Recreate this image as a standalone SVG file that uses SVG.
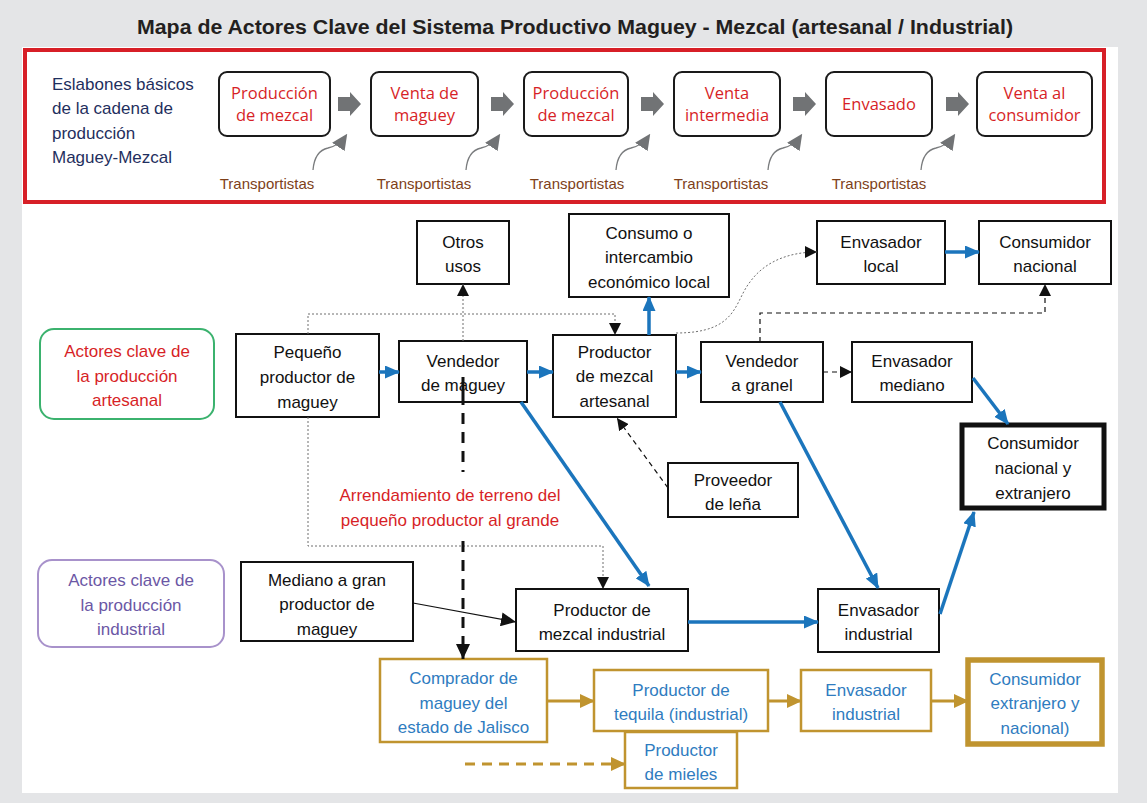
<svg xmlns="http://www.w3.org/2000/svg" width="1147" height="803" viewBox="0 0 1147 803">
<defs>
<style>
.bg{fill:#e4e5e7}
.panel{fill:#ffffff}
.title{font-family:"Liberation Sans",Arial,sans-serif;font-weight:bold;font-size:20px;fill:#231f20;text-anchor:middle}
.eslab{font-family:"Liberation Sans",Arial,sans-serif;font-size:17px;fill:#1f2f5e}
.step rect{fill:#fff;stroke:#1a1a1a;stroke-width:2}
.step text{font-family:"Open Sans","Liberation Sans",sans-serif;font-size:16.5px;fill:#d71f27;text-anchor:middle}
.trans{font-family:"Liberation Sans",Arial,sans-serif;font-size:15px;fill:#7e3f19;text-anchor:middle}
.garrow{fill:#717375}
.gcurve{fill:none;stroke:#7a7c7e;stroke-width:1.3}
.node rect{fill:#fff;stroke:#111;stroke-width:2}
.node .clear{fill:none}
.node text{font-family:"Liberation Sans",Arial,sans-serif;font-size:17px;fill:#111;text-anchor:middle}
.thick rect{stroke-width:5}
.gold rect{fill:#fff;stroke:#c0942f;stroke-width:2.5}
.gold text{font-family:"Liberation Sans",Arial,sans-serif;font-size:17px;fill:#2f7cc0;text-anchor:middle}
.goldthick rect{stroke-width:5.5}
.lbl text{font-family:"Liberation Sans",Arial,sans-serif;font-size:17px;text-anchor:middle}
.red{fill:#d71f27}
.blue{fill:none;stroke:#1b75bc;stroke-width:3.5}
.dot{fill:none;stroke:#6f6f6f;stroke-width:1;stroke-dasharray:2,2}
.dash{fill:none;stroke:#111;stroke-width:1.2;stroke-dasharray:5,4}
.bigdash{fill:none;stroke:#111;stroke-width:3;stroke-dasharray:11,8}
.thin{fill:none;stroke:#111;stroke-width:1.2}
.goldl{fill:none;stroke:#c0942f;stroke-width:3}
.golddash{fill:none;stroke:#c0942f;stroke-width:3;stroke-dasharray:10,7}
</style>
<marker id="mb" markerWidth="15" markerHeight="13" refX="14" refY="6.5" orient="auto" markerUnits="userSpaceOnUse"><path d="M0,0 L15,6.5 L0,13 z" fill="#1b75bc"/></marker>
<marker id="mk" markerWidth="12" markerHeight="12" refX="12" refY="6" orient="auto" markerUnits="userSpaceOnUse"><path d="M0,0 L12,6 L0,12 z" fill="#111"/></marker>
<marker id="mk2" markerWidth="15" markerHeight="14" refX="15" refY="7" orient="auto" markerUnits="userSpaceOnUse"><path d="M0,0 L15,7 L0,14 z" fill="#111"/></marker>
<marker id="mg" markerWidth="15" markerHeight="14" refX="14" refY="7" orient="auto" markerUnits="userSpaceOnUse"><path d="M0,0 L15,7 L0,14 z" fill="#c0942f"/></marker>
<marker id="mgr" markerWidth="16" markerHeight="15" refX="12" refY="7.5" orient="auto" markerUnits="userSpaceOnUse"><path d="M0,0 L16,7.5 L0,15 z" fill="#717375"/></marker>
</defs>

<rect class="bg" x="0" y="0" width="1147" height="803"/>
<rect class="panel" x="22" y="47" width="1096" height="746"/>
<text class="title" x="575" y="34" textLength="876" lengthAdjust="spacingAndGlyphs">Mapa de Actores Clave del Sistema Productivo Maguey - Mezcal (artesanal / Industrial)</text>

<g id="eslabones">
<rect x="25" y="50" width="1079" height="152" fill="none" stroke="#d71f27" stroke-width="4"/>
<text class="eslab" x="52" y="90">Eslabones básicos</text>
<text class="eslab" x="52" y="114">de la cadena de</text>
<text class="eslab" x="52" y="139">producción</text>
<text class="eslab" x="52" y="163">Maguey-Mezcal</text>
</g>

<g id="step1" class="step"><rect x="219" y="72" width="111" height="64" rx="8"/><text x="274.5" y="99">Producción</text><text x="274.5" y="121">de mezcal</text></g>
<g id="step2" class="step"><rect x="371" y="72" width="107" height="64" rx="8"/><text x="424.5" y="99">Venta de</text><text x="424.5" y="121">maguey</text></g>
<g id="step3" class="step"><rect x="524" y="72" width="104" height="64" rx="8"/><text x="576" y="99">Producción</text><text x="576" y="121">de mezcal</text></g>
<g id="step4" class="step"><rect x="674" y="72" width="106" height="64" rx="8"/><text x="727" y="99">Venta</text><text x="727" y="121">intermedia</text></g>
<g id="step5" class="step"><rect x="826" y="72" width="106" height="64" rx="8"/><text x="879" y="110">Envasado</text></g>
<g id="step6" class="step"><rect x="977" y="72" width="115" height="64" rx="8"/><text x="1034.5" y="99">Venta al</text><text x="1034.5" y="121">consumidor</text></g>

<g id="top-connectors">
<polygon class="garrow" points="338,97 350,97 350,92 361,104 350,116 350,111 338,111"/>
<polygon class="garrow" points="491,97 503,97 503,92 514,104 503,116 503,111 491,111"/>
<polygon class="garrow" points="641,97 653,97 653,92 664,104 653,116 653,111 641,111"/>
<polygon class="garrow" points="793,97 805,97 805,92 816,104 805,116 805,111 793,111"/>
<polygon class="garrow" points="946,97 958,97 958,92 969,104 958,116 958,111 946,111"/>
<path class="gcurve" marker-end="url(#mgr)" d="M313,170 C314,158 319,150 328,148 C336,146 341,143 345,137"/>
<path class="gcurve" marker-end="url(#mgr)" d="M466,170 C467,158 472,150 481,148 C489,146 494,143 498,137"/>
<path class="gcurve" marker-end="url(#mgr)" d="M616,170 C617,158 622,150 631,148 C639,146 644,143 648,137"/>
<path class="gcurve" marker-end="url(#mgr)" d="M768,170 C769,158 774,150 783,148 C791,146 796,143 800,137"/>
<path class="gcurve" marker-end="url(#mgr)" d="M921,170 C922,158 927,150 936,148 C944,146 949,143 953,137"/>
</g>
<text class="trans" x="267" y="189">Transportistas</text>
<text class="trans" x="424" y="189">Transportistas</text>
<text class="trans" x="577" y="189">Transportistas</text>
<text class="trans" x="721" y="189">Transportistas</text>
<text class="trans" x="879" y="189">Transportistas</text>

<g id="lbl-artesanal" class="lbl"><rect x="40" y="329" width="174" height="90" rx="14" fill="#fff" stroke="#3bb26e" stroke-width="2"/><text x="127" y="357" fill="#d71f27">Actores clave de</text><text x="127" y="382" fill="#d71f27">la producción</text><text x="127" y="406" fill="#d71f27">artesanal</text></g>
<g id="lbl-industrial" class="lbl"><rect x="38" y="560" width="186" height="87" rx="14" fill="#fff" stroke="#a892cb" stroke-width="2"/><text x="131" y="586" fill="#6b57a5">Actores clave de</text><text x="131" y="611" fill="#6b57a5">la producción</text><text x="131" y="635" fill="#6b57a5">industrial</text></g>

<g id="otros" class="node"><rect x="417" y="221" width="92" height="63"/><text x="463" y="248">Otros</text><text x="463" y="272">usos</text></g>
<g id="consumo" class="node"><rect x="569" y="214" width="160" height="83"/><text x="649" y="239">Consumo o</text><text x="649" y="263">intercambio</text><text x="649" y="288">económico local</text></g>
<g id="env-local" class="node"><rect x="817" y="221" width="128" height="63"/><text x="881" y="248">Envasador</text><text x="881" y="272">local</text></g>
<g id="cons-nac" class="node"><rect x="979" y="221" width="132" height="63"/><text x="1045" y="248">Consumidor</text><text x="1045" y="272">nacional</text></g>
<g id="pequeno" class="node"><rect x="236" y="334" width="143" height="83"/><text x="307.5" y="358">Pequeño</text><text x="307.5" y="383">productor de</text><text x="307.5" y="408">maguey</text></g>
<g id="vend-maguey" class="node"><rect x="399" y="341" width="128" height="61"/><text x="463" y="367">Vendedor</text><text x="463" y="391">de maguey</text></g>
<g id="prod-art" class="node"><rect x="553" y="335" width="123" height="82"/><text x="614.5" y="358">Productor</text><text x="614.5" y="382">de mezcal</text><text x="614.5" y="407">artesanal</text></g>
<g id="vend-granel" class="node"><rect x="701" y="342" width="122" height="60"/><text x="762" y="367">Vendedor</text><text x="762" y="391">a granel</text></g>
<g id="env-mediano" class="node"><rect x="852" y="342" width="120" height="60"/><text x="912" y="367">Envasador</text><text x="912" y="391">mediano</text></g>
<g id="cons-ne" class="node thick"><rect x="962" y="425" width="142" height="83"/><text x="1033" y="449">Consumidor</text><text x="1033" y="474">nacional y</text><text x="1033" y="499">extranjero</text></g>
<g id="proveedor" class="node"><rect x="668" y="463" width="130" height="54"/><text x="733" y="486">Proveedor</text><text x="733" y="510">de leña</text></g>
<text class="red" x="450" y="501" font-family="Liberation Sans, Arial, sans-serif" font-size="17" text-anchor="middle">Arrendamiento de terreno del</text>
<text class="red" x="450" y="526" font-family="Liberation Sans, Arial, sans-serif" font-size="17" text-anchor="middle">pequeño productor al grande</text>
<g id="mediano-gran" class="node"><rect x="241" y="562" width="172" height="79"/><text x="327" y="586">Mediano a gran</text><text x="327" y="610">productor de</text><text x="327" y="635">maguey</text></g>
<g id="prod-ind" class="node"><rect x="516" y="589" width="172" height="62"/><text x="602" y="616">Productor de</text><text x="602" y="640">mezcal industrial</text></g>
<g id="env-ind" class="node"><rect x="818" y="589" width="121" height="63"/><text x="878.5" y="616">Envasador</text><text x="878.5" y="640">industrial</text></g>

<g id="comprador" class="gold"><rect x="380" y="659" width="167" height="83"/><text x="463.5" y="684">Comprador de</text><text x="463.5" y="709">maguey del</text><text x="463.5" y="733">estado de Jalisco</text></g>
<g id="prod-tequila" class="gold"><rect x="594" y="670" width="174" height="61"/><text x="681" y="696">Productor de</text><text x="681" y="720">tequila (industrial)</text></g>
<g id="prod-mieles" class="gold"><rect x="625" y="732" width="112" height="56"/><text x="681" y="756">Productor</text><text x="681" y="780">de mieles</text></g>
<g id="env-ind-gold" class="gold"><rect x="801" y="670" width="130" height="61"/><text x="866" y="696">Envasador</text><text x="866" y="720">industrial</text></g>
<g id="cons-ext" class="gold goldthick"><rect x="968" y="660" width="134" height="84"/><text x="1035" y="685">Consumidor</text><text x="1035" y="709">extranjero y</text><text x="1035" y="734">nacional)</text></g>

<g id="connectors">
<path class="dot" marker-end="url(#mk)" d="M308,334 V314 H615 V335"/>
<path class="dot" marker-end="url(#mk)" d="M463,341 V284"/>
<path class="dot" marker-end="url(#mk)" d="M308,417 V546 H603 V589"/>
<path class="dot" marker-end="url(#mk)" d="M676,333 C738,333 734,302 750,282 C765,261 790,252 817,252"/>
<path class="dash" marker-end="url(#mk)" d="M760,342 V313 H1045 V284"/>
<path class="dash" marker-end="url(#mk)" d="M823,372 H852"/>
<path class="dash" marker-end="url(#mk)" d="M668,488 L617,418"/>
<path class="thin" marker-end="url(#mk2)" d="M413,603 L516,622"/>
<path class="bigdash" style="stroke-dasharray:28,8,11,8,11,8,11,8" d="M463,377 V472"/>
<path class="bigdash" marker-end="url(#mk2)" d="M463,541 V659"/>
<path class="blue" marker-end="url(#mb)" d="M379,372 H399"/>
<path class="blue" marker-end="url(#mb)" d="M527,372 H553"/>
<path class="blue" marker-end="url(#mb)" d="M649,335 V297"/>
<path class="blue" marker-end="url(#mb)" d="M676,372 H701"/>
<path class="blue" marker-end="url(#mb)" d="M945,252 H979"/>
<path class="blue" marker-end="url(#mb)" d="M973,378 L1008,424"/>
<path class="blue" marker-end="url(#mb)" d="M521,402 L649,586"/>
<path class="blue" marker-end="url(#mb)" d="M780,402 L878,588"/>
<path class="blue" marker-end="url(#mb)" d="M688,622 H818"/>
<path class="blue" marker-end="url(#mb)" d="M940,614 L974,512"/>
<path class="goldl" marker-end="url(#mg)" d="M547,701 H594"/>
<path class="goldl" marker-end="url(#mg)" d="M768,701 H801"/>
<path class="goldl" marker-end="url(#mg)" d="M931,701 H968"/>
<path class="golddash" marker-end="url(#mg)" d="M465,764 H625"/>
</g>
</svg>
